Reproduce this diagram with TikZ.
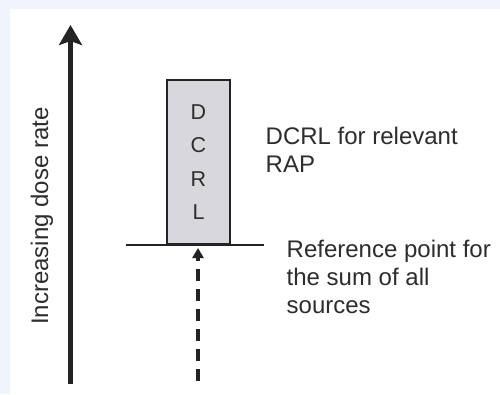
\documentclass[tikz,border=0pt]{standalone}
\usepackage{fontspec}
\setmainfont{Liberation Sans}
\usetikzlibrary{arrows.meta}
\definecolor{bgblue}{RGB}{240,244,252}
\definecolor{ink}{RGB}{35,35,35}
\definecolor{txt}{RGB}{45,45,45}
\definecolor{boxfill}{RGB}{216,216,220}
\begin{document}
\begin{tikzpicture}[x=1pt,y=-1pt,
  lbl/.style={inner sep=0pt, text=txt, font=\fontsize{24}{28}\selectfont},
  dcrlbox/.style={draw=ink, line width=1.8pt, fill=boxfill, minimum width=63pt, minimum height=164pt, inner sep=0pt,
     text=txt, align=center, font=\fontsize{21.5}{33.5}\selectfont},
  axisarrow/.style={draw=ink, line width=4.2pt, -{Stealth[length=20pt,width=23pt,inset=4pt]}},
  dasharrow/.style={draw=ink, line width=3.2pt, dash pattern=on 12pt off 8pt, -{Triangle[length=10pt,width=11pt]}},
  baseline/.style={draw=ink, line width=2.2pt}]
\useasboundingbox (0,0) rectangle (500,394);
\fill[bgblue] (0,0) rectangle (500,394);
\fill[white] (10,9) rectangle (500,394);
% axis
\coordinate (a0) at (70.5,384);
\coordinate (a1) at (70.5,25);
\draw[axisarrow] (a0) -- (a1);
\node[lbl, rotate=90, anchor=base] (ylab) at (48,216) {Increasing dose rate};
% box
\node[dcrlbox] (dcrl) at (198.5,162) {D\\C\\R\\L};
% reference line
\coordinate (hl) at (126,245);
\coordinate (hr) at (264,245);
\draw[baseline] (hl) -- (hr);
% dashed arrow
\coordinate (d0) at (198,381);
\coordinate (d1) at (198,248);
\draw[dasharrow] (d0) -- (d1);
% labels
\node[lbl, anchor=north west, align=left] (t1) at (265.5,127.2) {DCRL for relevant\\RAP};
\node[lbl, anchor=north west, align=left] (t2) at (286.5,240.3) {Reference point for\\the sum of all\\sources};
\end{tikzpicture}
\end{document}
